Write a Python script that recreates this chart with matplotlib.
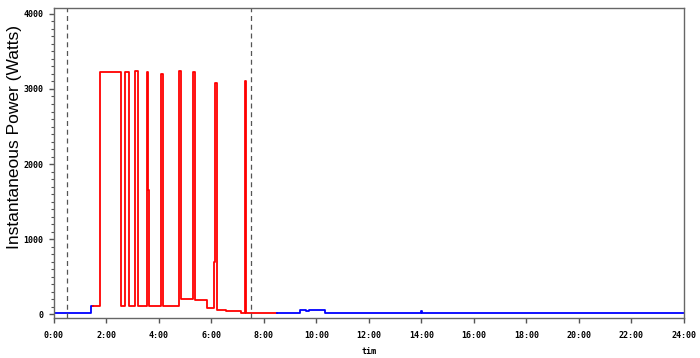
import matplotlib.pyplot as plt
from matplotlib.ticker import MultipleLocator

# times in hours, power in watts (step data)
blue_pre_t = [0.0, 1.41, 1.47]
blue_pre_w = [10, 110, 110]

red_t = [1.47, 1.74, 1.76, 2.55, 2.57, 2.71, 2.84, 3.09, 3.22, 3.54, 3.58, 3.61,
         4.09, 4.17, 4.75, 4.77, 4.83, 5.31, 5.38, 5.84, 6.10, 6.13, 6.22, 6.57,
         7.11, 7.27, 7.33, 8.48]
red_w = [110, 2170, 3220, 1650, 110, 3220, 110, 3240, 110, 3220, 1650, 110,
         3200, 110, 1160, 3240, 200, 3230, 190, 80, 700, 3080, 60, 45,
         15, 3100, 10, 10]

blue_post_t = [8.48, 9.39, 9.6, 9.7, 10.34, 13.98, 14.02, 24.0]
blue_post_w = [10, 55, 45, 52, 15, 35, 15, 15]

vlines = [0.5, 7.5]
xticks = list(range(0, 25, 2))
xlabels = ['%d:00' % h for h in xticks]

fig = plt.figure(figsize=(7, 3.58), dpi=100)
ax = fig.add_axes([0.0771, 0.1117, 0.9, 0.866])

ax.plot(blue_pre_t, blue_pre_w, drawstyle='steps-post', color='#0000ff', lw=1.3)
ax.plot(red_t, red_w, drawstyle='steps-post', color='#ff0000', lw=1.3)
ax.plot(blue_post_t, blue_post_w, drawstyle='steps-post', color='#0000ff', lw=1.3)

for v in vlines:
    ax.axvline(v, color='#555555', ls=(0, (4, 3)), lw=0.9)

ax.set_xlim(0, 24)
ax.set_ylim(-53, 4080)
ax.set_xticks(xticks)
ax.set_xticklabels(xlabels)
ax.set_yticks([0, 1000, 2000, 3000, 4000])
ax.yaxis.set_minor_locator(MultipleLocator(100))

tickfont = dict(family='DejaVu Sans Mono', weight='bold', size=6)
for lab in ax.get_xticklabels() + ax.get_yticklabels():
    lab.set_fontproperties(tickfont)
ax.tick_params(axis='both', which='major', direction='out', length=3.5, width=1, color='#555555', pad=4)
ax.tick_params(axis='x', which='major', pad=6)
ax.tick_params(axis='y', which='minor', direction='out', length=2, width=0.8, color='#555555')

for s in ax.spines.values():
    s.set_color('#666666')
    s.set_linewidth(1.0)

ax.set_ylabel('Instantaneous Power (Watts)', family='Liberation Sans', size=12.5)
ax.yaxis.set_label_coords(-0.05, 0.585)
ax.set_xlabel('tim', family='DejaVu Sans Mono', weight='bold', size=6)
ax.xaxis.set_label_coords(0.5, -0.095)

plt.savefig('out.png', dpi=100)
